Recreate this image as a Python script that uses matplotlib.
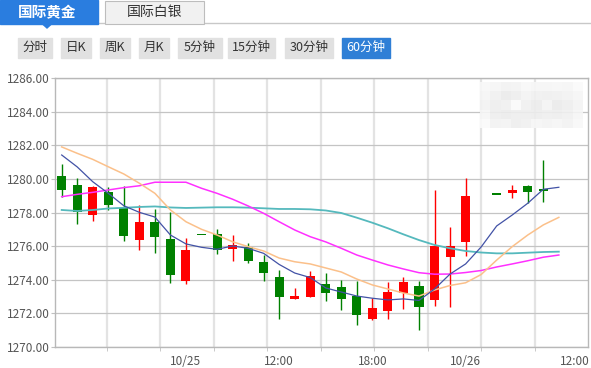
import numpy as np
import matplotlib
matplotlib.use('Agg')
import matplotlib.pyplot as plt
from matplotlib.patches import Rectangle, Polygon

plt.rcParams['font.family'] = ['Noto Sans CJK SC', 'DejaVu Sans']

nan = np.nan

# hourly candles (slot 27 has no bar)
opens = [1280.17, 1279.64, 1277.87, 1279.22, 1278.29, 1276.38, 1277.43, 1276.42,
         1273.93, 1276.70, 1276.70, 1275.85, 1275.93, 1275.04, 1274.16, 1272.87,
         1272.99, 1273.75, 1273.57, 1273.03, 1271.68, 1272.16, 1273.24, 1273.63,
         1272.80, 1275.37, 1276.26, nan, 1279.10, 1279.14, 1279.58, 1279.40]
highs = [1280.88, 1280.07, 1279.58, 1279.52, 1279.59, 1278.45, 1278.21, 1278.03,
         1276.48, 1276.70, 1277.04, 1276.66, 1276.17, 1275.47, 1274.58, 1273.51,
         1274.52, 1274.38, 1273.97, 1273.93, 1272.91, 1273.85, 1274.16, 1273.93,
         1279.34, 1277.12, 1280.03, nan, 1279.10, 1279.64, 1279.64, 1281.12]
lows = [1278.94, 1277.31, 1277.49, 1278.12, 1276.30, 1275.77, 1275.57, 1273.79,
        1273.73, 1276.70, 1275.53, 1275.12, 1275.01, 1273.93, 1271.67, 1272.87,
        1272.99, 1272.74, 1272.20, 1271.31, 1271.61, 1271.68, 1272.24, 1271.01,
        1272.44, 1272.36, 1275.41, nan, 1279.10, 1278.88, 1278.55, 1278.64]
closes = [1279.36, 1278.05, 1279.54, 1278.46, 1276.62, 1277.43, 1276.54, 1274.28,
          1275.77, 1276.70, 1275.77, 1276.07, 1275.13, 1274.38, 1272.99, 1273.03,
          1274.22, 1273.19, 1272.85, 1271.90, 1272.32, 1273.29, 1273.87, 1272.40,
          1276.01, 1276.01, 1278.98, nan, 1279.10, 1279.34, 1279.24, 1279.28]

# moving averages (one more slot than the candles)
ma_blue = [1281.42, 1280.71, 1279.83, 1279.14, 1278.40, 1278.01, 1277.73, 1276.66,
           1276.13, 1275.93, 1275.81, 1276.01, 1275.87, 1275.57, 1274.91, 1274.40,
           1274.13, 1273.51, 1273.27, 1273.03, 1272.90, 1272.80, 1272.86, 1272.77,
           1273.45, 1274.34, 1274.94, 1275.95, 1277.20, 1277.85, 1278.55, 1279.38, 1279.50]
ma_orange = [1281.90, 1281.52, 1281.16, 1280.72, 1280.29, 1279.74, 1279.14, 1278.15,
             1277.45, 1277.00, 1276.66, 1276.26, 1275.97, 1275.71, 1275.29, 1275.07,
             1274.94, 1274.70, 1274.46, 1274.04, 1273.69, 1273.45, 1273.21, 1273.03,
             1273.39, 1273.66, 1273.82, 1274.31, 1275.17, 1275.97, 1276.66, 1277.26, 1277.71]
ma_magenta = [1278.94, 1279.08, 1279.20, 1279.34, 1279.48, 1279.59, 1279.80, 1279.80,
              1279.80, 1279.44, 1279.14, 1278.79, 1278.39, 1277.95, 1277.45, 1276.96,
              1276.56, 1276.25, 1275.87, 1275.47, 1275.17, 1274.88, 1274.64, 1274.42,
              1274.33, 1274.34, 1274.43, 1274.55, 1274.76, 1274.94, 1275.13, 1275.34, 1275.47]
ma_teal = [1278.15, 1278.09, 1278.15, 1278.24, 1278.28, 1278.33, 1278.36, 1278.30,
           1278.27, 1278.29, 1278.31, 1278.31, 1278.29, 1278.25, 1278.21, 1278.21,
           1278.19, 1278.12, 1277.97, 1277.69, 1277.39, 1277.06, 1276.70, 1276.36,
           1276.07, 1275.87, 1275.71, 1275.62, 1275.57, 1275.57, 1275.61, 1275.65, 1275.67]

tick_pos = [8, 14, 20, 26, 33]
tick_labels = ['10/25', '12:00', '18:00', '10/26', '12:00']
y_ticks = np.arange(1270, 1287, 2)

tabs = ['国际黄金', '国际白银']
periods = ['分时', '日K', '周K', '月K', '5分钟', '15分钟', '30分钟', '60分钟']
active_period = '60分钟'

W, H = 591, 368
fig = plt.figure(figsize=(W / 100, H / 100), dpi=100)

# ---- header (tabs + period buttons), drawn in pixel space
deco = fig.add_axes([0, 0, 1, 1])
deco.set_xlim(0, W)
deco.set_ylim(H, 0)
deco.axis('off')

deco.plot([98, W], [22.5, 22.5], color='#c8c8c8', lw=1)
deco.add_patch(Rectangle((0, 0), 98, 23.5, color='#2a7ddf', zorder=2))
deco.add_patch(Polygon([[42, 23.5], [52, 23.5], [47, 28]], color='#2a7ddf', zorder=2))
deco.text(47, 12, tabs[0], color='white', fontsize=10.5, fontweight='bold',
          ha='center', va='center', zorder=3)
deco.add_patch(Rectangle((105, 1), 99, 22.5, facecolor='#f1f1f1', edgecolor='#bdbdbd',
                         lw=0.8, zorder=2))
deco.text(154.5, 12, tabs[1], color='#333333', fontsize=10, ha='center', va='center',
          zorder=3)

btn_x = [18, 61, 100, 139, 178, 228, 285, 342]
btn_w = [34, 30, 30, 30, 44, 47, 48, 48]
for label, bx, bw in zip(periods, btn_x, btn_w):
    active = label == active_period
    deco.add_patch(Rectangle((bx, 38), bw, 19.5,
                             color='#2f7fd6' if active else '#e1e1e1'))
    deco.text(bx + bw / 2, 47.5, label, fontsize=9,
              color='white' if active else '#333333', ha='center', va='center')

# ---- price chart
left, right, top, bottom = 55, 588, 78, 347
ax = fig.add_axes([left / W, 1 - bottom / H, (right - left) / W, (bottom - top) / H])

x0_pix, step_pix = 61.7, 15.535
xmin = (left - x0_pix) / step_pix
xmax = (right - x0_pix) / step_pix
ax.set_xlim(xmin, xmax)
ax.set_ylim(1270, 1286)

# vertical grid, spaced independently of the time labels
grid_step = 53.45 / step_pix
vgrid = [xmax - grid_step * k for k in range(1, 10)]
ax.vlines(vgrid, 1270, 1286, color='#e3e3e3', lw=1.6, zorder=0)
ax.set_yticks(y_ticks)
ax.set_yticklabels([f'{v:.2f}' for v in y_ticks])
ax.grid(axis='y', color='#c4c4c4', lw=0.9, zorder=0)
ax.set_axisbelow(True)

idx = np.arange(len(opens))
o = np.array(opens)
c = np.array(closes)
hi = np.array(highs)
lo = np.array(lows)
ok = ~np.isnan(o)
colors = np.where(c > o, '#ff0000', '#008000')

ax.vlines(idx[ok], lo[ok], hi[ok], colors=colors[ok], lw=1.0, zorder=3)
body = np.maximum(np.abs(c - o), 0.1)
ax.bar(idx[ok], body[ok], bottom=np.minimum(o, c)[ok] - (body[ok] - np.abs(c - o)[ok]) / 2,
       width=0.58, color=colors[ok], zorder=4)

mx = np.arange(len(ma_blue))
ax.plot(mx, ma_teal, color='#55b9bd', lw=1.3, zorder=5)
ax.plot(mx, ma_magenta, color='#ff30ff', lw=1.1, zorder=5)
ax.plot(mx, ma_orange, color='#fbc08a', lw=1.1, zorder=5)
ax.plot(mx, ma_blue, color='#4252a6', lw=0.9, zorder=6)

# blurred logo in the top right corner
blur = np.array([
    [0xf8, 0xf6, 0xf2, 0xf4, 0xf8, 0xf6, 0xf5, 0xf7, 0xf6, 0xfa],
    [0xf5, 0xf0, 0xea, 0xee, 0xf4, 0xf0, 0xef, 0xf0, 0xf2, 0xf6],
    [0xf2, 0xee, 0xf0, 0xfa, 0xf0, 0xec, 0xf4, 0xea, 0xee, 0xf4],
    [0xf6, 0xee, 0xec, 0xee, 0xee, 0xed, 0xef, 0xee, 0xf0, 0xf5],
    [0xfa, 0xf2, 0xf4, 0xee, 0xf0, 0xf6, 0xf4, 0xf6, 0xf2, 0xf8],
]) / 255.0
ax.imshow(blur, cmap='gray', vmin=0, vmax=1, aspect='auto', interpolation='nearest',
          extent=[26.93, 33.56, 1283.03, 1285.76], alpha=0.9, zorder=1)
ax.set_xlim(xmin, xmax)
ax.set_ylim(1270, 1286)

ax.set_xticks(tick_pos)
ax.set_xticklabels(tick_labels)
ax.set_xticks(vgrid, minor=True)
ax.tick_params(axis='x', which='major', length=0, pad=6, labelsize=8.5, labelcolor='#555555')
ax.tick_params(axis='x', which='minor', length=3, color='#c0c0c0')
ax.tick_params(axis='y', length=3, color='#c0c0c0', pad=1, labelsize=8.5, labelcolor='#555555')
for s in ax.spines.values():
    s.set_color('#b8b8b8')
    s.set_linewidth(1)

fig.savefig('out.png', dpi=100)
